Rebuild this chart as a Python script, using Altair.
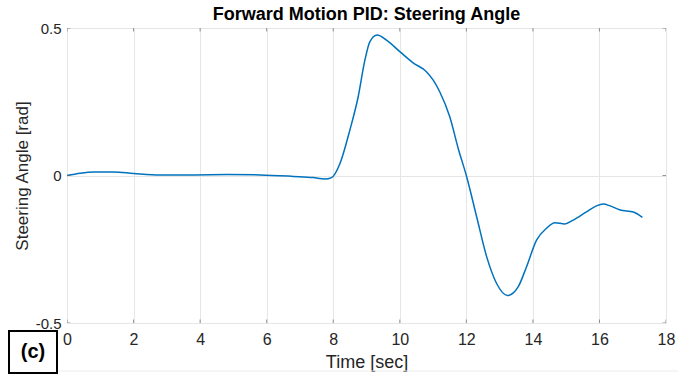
import altair as alt
import pandas as pd

# Data
time_sec = [0.0, 0.4, 0.8, 1.4, 2.0, 2.8, 3.8, 4.8, 5.8, 6.8, 7.4, 7.75, 7.95,
            8.2, 8.5, 8.75, 8.95, 9.1, 9.32, 9.6, 10.0, 10.4, 10.8, 11.0, 11.2,
            11.5, 11.76, 12.0, 12.31, 12.61, 12.91, 13.24, 13.56, 13.81, 14.11,
            14.41, 14.66, 14.96, 15.21, 15.61, 15.91, 16.12, 16.32, 16.62,
            17.02, 17.29]
steer_rad = [0.0, 0.008, 0.012, 0.012, 0.007, 0.002, 0.002, 0.003, 0.002,
             -0.003, -0.007, -0.012, -0.007, 0.04, 0.154, 0.267, 0.39, 0.453,
             0.476, 0.459, 0.42, 0.382, 0.352, 0.324, 0.284, 0.2, 0.09, 0.0,
             -0.14, -0.275, -0.366, -0.407, -0.377, -0.309, -0.219, -0.179,
             -0.16, -0.164, -0.151, -0.123, -0.103, -0.097, -0.103, -0.117,
             -0.124, -0.142]
x_ticks = [0, 2, 4, 6, 8, 10, 12, 14, 16, 18]
y_ticks = [-0.5, 0, 0.5]
panel_label = "(c)"

df = pd.DataFrame({"t": time_sec, "a": steer_rad})
xt = pd.DataFrame({"t": x_ticks})
yt = pd.DataFrame({"a": y_ticks})

FONT = "Liberation Sans"
TXT = "#262626"
W, H = 599, 295

xscale = alt.Scale(domain=[0, 18], nice=False, zero=False)
yscale = alt.Scale(domain=[-0.5, 0.5], nice=False, zero=False)

x_axis = alt.Axis(values=x_ticks, title="Time [sec]", grid=True, gridColor="#e6e6e6",
                  domain=False, ticks=False, labelFont=FONT, labelFontSize=16,
                  labelColor=TXT, labelPadding=8, titleFont=FONT, titleFontSize=18,
                  titleFontWeight="normal", titleColor=TXT, titleY=39,
                  titleBaseline="middle", labelFlush=False)
y_axis = alt.Axis(values=y_ticks, title="Steering Angle [rad]", grid=True,
                  gridColor="#e6e6e6", domain=False, ticks=False, labelFont=FONT,
                  labelFontSize=15, labelColor=TXT, labelPadding=6,
                  labelExpr="datum.value == 0 ? '0' : (datum.value < 0 ? '-' : '') + format(abs(datum.value), '.1f')",
                  titleFont=FONT, titleFontSize=17, titleFontWeight="normal",
                  titleColor=TXT, titleX=-45, titleY=H / 2, titleBaseline="middle",
                  labelFlush=False)

line = alt.Chart(df).mark_line(color="#0072BD", strokeWidth=1.5,
                               interpolate="monotone").encode(
    x=alt.X("t:Q", scale=xscale, axis=x_axis),
    y=alt.Y("a:Q", scale=yscale, axis=y_axis),
)

TICKC = "#666666"
# inward ticks (clipped at the frame)
xtick_bot = alt.Chart(xt).mark_tick(color=TICKC, size=7, thickness=1, clip=True,
                                    orient="vertical").encode(
    x=alt.X("t:Q", scale=xscale), y=alt.datum(-0.5, scale=yscale))
xtick_top = alt.Chart(xt).mark_tick(color=TICKC, size=7, thickness=1, clip=True,
                                    orient="vertical").encode(
    x=alt.X("t:Q", scale=xscale), y=alt.datum(0.5, scale=yscale))
ytick_l = alt.Chart(yt).mark_tick(color=TICKC, size=7, thickness=1, clip=True,
                                  orient="horizontal").encode(
    y=alt.Y("a:Q", scale=yscale), x=alt.datum(0, scale=xscale))
ytick_r = alt.Chart(yt).mark_tick(color=TICKC, size=7, thickness=1, clip=True,
                                  orient="horizontal").encode(
    y=alt.Y("a:Q", scale=yscale), x=alt.datum(18, scale=xscale))

# faint figure separator line at the bottom
sep = alt.Chart(pd.DataFrame({"k": [0]})).mark_rule(color="#ececec", strokeWidth=1).encode(
    x=alt.value(-10), x2=alt.value(W + 12), y=alt.value(343))

# panel label box
box = alt.Chart(pd.DataFrame({"k": [0]})).mark_rect(
    fill="white", stroke="black", strokeWidth=2).encode(
    x=alt.value(-58), x2=alt.value(-10), y=alt.value(303), y2=alt.value(345))
lab = alt.Chart(pd.DataFrame({"s": [panel_label]})).mark_text(
    font=FONT, fontSize=20, fontWeight="bold", color="black",
    align="center", baseline="middle").encode(
    text="s:N", x=alt.value(-34), y=alt.value(324))

chart = alt.layer(line, xtick_bot, xtick_top, ytick_l, ytick_r, sep, box, lab).properties(
    width=W, height=H,
    title=alt.TitleParams("Forward Motion PID: Steering Angle", font=FONT,
                          fontSize=18, fontWeight="bold", color="black",
                          anchor="middle", offset=-3),
    padding={"left": 67, "top": 28, "right": 12, "bottom": 58},
    autosize=alt.AutoSizeParams(type="none"),
).configure_view(stroke="#a0a0a0", strokeWidth=1).configure(background="white")

chart.save("out.html", embed_options={"renderer": "svg", "actions": False})
